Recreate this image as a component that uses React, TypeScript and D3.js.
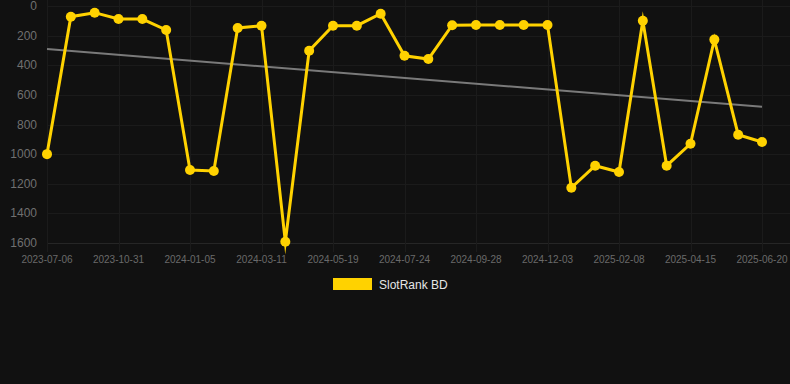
import React from "react";
import * as d3 from "d3";

const categories = [
  "2023-07-06", "2023-08-14", "2023-09-22", "2023-10-31", "2023-11-22", "2023-12-14",
  "2024-01-05", "2024-01-27", "2024-02-18", "2024-03-11", "2024-04-03", "2024-04-26",
  "2024-05-19", "2024-06-10", "2024-07-02", "2024-07-24", "2024-08-15", "2024-09-06",
  "2024-09-28", "2024-10-20", "2024-11-11", "2024-12-03", "2024-12-25", "2025-01-17",
  "2025-02-08", "2025-03-03", "2025-03-24", "2025-04-15", "2025-05-07", "2025-05-29",
  "2025-06-20",
];

const rankValues = [
  1000, 72, 45, 88, 88, 162, 1107, 1114, 148, 133, 1591, 302, 133, 133, 52, 336,
  358, 130, 128, 128, 128, 128, 1227, 1078, 1121, 99, 1078, 930, 227, 869, 918,
];

const yTicks = [0, 200, 400, 600, 800, 1000, 1200, 1400, 1600];
const seriesName = "SlotRank BD";

const W = 790;
const H = 384;

export default function App() {
  const x = d3.scalePoint<string>().domain(categories).range([47, 762]);
  const y = d3.scaleLinear().domain([0, 1600]).range([6, 243]);

  const n = rankValues.length;
  const idx = d3.range(n);
  const mx = d3.mean(idx)!;
  const my = d3.mean(rankValues)!;
  const slope =
    d3.sum(idx, (i) => (i - mx) * (rankValues[i] - my)) /
    d3.sum(idx, (i) => (i - mx) * (i - mx));
  const intercept = my - slope * mx;
  const trend = [0, n - 1].map((i) => ({ c: categories[i], v: intercept + slope * i }));

  const line = d3
    .line<number>()
    .x((_, i) => x(categories[i])!)
    .y((d) => y(d));

  const trendLine = d3
    .line<{ c: string; v: number }>()
    .x((d) => x(d.c)!)
    .y((d) => y(d.v));

  const tickCats = categories.filter((_, i) => i % 3 === 0);
  const font = "Liberation Sans, Arial, Helvetica, sans-serif";

  return (
    <div style={{ position: "fixed", left: 0, top: 0, width: W, height: H, background: "#111111" }}>
      <svg width={W} height={H} style={{ display: "block" }}>
        <rect x={0} y={0} width={W} height={H} fill="#111111" />
        {/* grid */}
        <g strokeWidth={1}>
          {yTicks.map((t) => (
            <line
              key={"h" + t}
              x1={47}
              x2={W}
              y1={Math.round(y(t)) + 0.5}
              y2={Math.round(y(t)) + 0.5}
              stroke={t === 1600 ? "#262626" : "#1b1b1b"}
            />
          ))}
          {tickCats.map((c) => (
            <line
              key={"v" + c}
              x1={Math.round(x(c)!) + 0.5}
              x2={Math.round(x(c)!) + 0.5}
              y1={0}
              y2={252}
              stroke="#1b1b1b"
            />
          ))}
        </g>
        {/* y labels */}
        <g fontFamily={font} fontSize={12} fill="#707070" textAnchor="end">
          {yTicks.map((t) => (
            <text key={"yl" + t} x={37} y={y(t) + 4}>
              {t}
            </text>
          ))}
        </g>
        {/* x labels */}
        <g fontFamily={font} fontSize={10} fill="#6a6a6a" textAnchor="middle">
          {tickCats.map((c) => (
            <text key={"xl" + c} x={x(c)} y={263}>
              {c}
            </text>
          ))}
        </g>
        {/* trend */}
        <path d={trendLine(trend)!} fill="none" stroke="#7a7a7a" strokeWidth={2} />
        {/* series */}
        <path
          d={line(rankValues)!}
          fill="none"
          stroke="#FFD200"
          strokeWidth={3}
          strokeLinejoin="miter"
          strokeMiterlimit={10}
        />
        {rankValues.map((v, i) => (
          <circle key={"p" + i} cx={x(categories[i])} cy={y(v)} r={5} fill="#FFD200" />
        ))}
        {/* legend */}
        <rect x={333} y={278} width={39} height={12} fill="#FFD200" />
        <text x={379} y={289} fontFamily={font} fontSize={12} fill="#e6e6e6">
          {seriesName}
        </text>
      </svg>
    </div>
  );
}
